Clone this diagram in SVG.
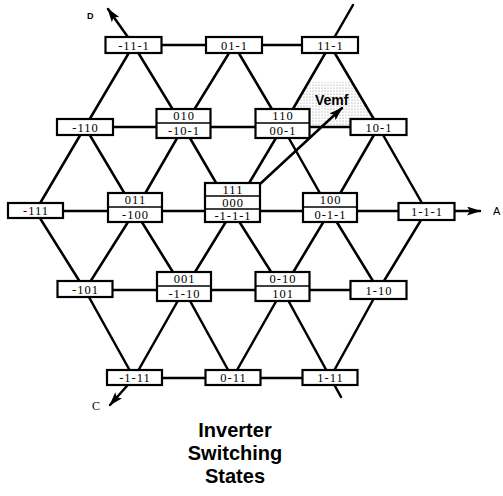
<svg xmlns="http://www.w3.org/2000/svg" width="503" height="496" viewBox="0 0 503 496">
<style>
.ln{stroke:#000;stroke-width:2.5;fill:none;stroke-linecap:round}
.bx{fill:#fff;stroke:#000;stroke-width:2.2}
.sp{stroke:#000;stroke-width:1.6}
.t{font-family:"Liberation Serif","Times New Roman",serif;font-size:12.5px;text-anchor:middle;letter-spacing:1px;fill:#000}
.title{font-family:"Liberation Sans",Arial,sans-serif;font-weight:bold;font-size:20px;text-anchor:middle;fill:#000}
</style>
<defs>
<marker id="ah" viewBox="0 0 14 9" refX="13" refY="4.5" markerWidth="14" markerHeight="9" markerUnits="userSpaceOnUse" orient="auto">
<path d="M0,0 L14,4.5 L0,9 L3,4.5 Z" fill="#000"/>
</marker>
<pattern id="dots" width="3" height="3" patternUnits="userSpaceOnUse">
<circle cx="1" cy="1" r="0.6" fill="#888"/>
</pattern>
</defs>
<rect width="503" height="496" fill="#fff"/>
<polygon points="309.5,82 350.5,82 378,127 282,127" fill="url(#dots)"/>
<g id="connectors">
<path class="ln" d="M133.5,45H330 M85,127H378.5 M35.5,211H455 M85,290H378.5 M134,378H330"/>
<path class="ln" d="M133.5,45L85,127 M133.5,45L183.5,127 M234,45L183.5,127 M234,45L282.5,127 M330,45L282.5,127 M330,45L378.5,127"/>
<path class="ln" d="M85,127L35.5,211 M85,127L135,211 M183.5,127L135,211 M183.5,127L232.5,211 M282.5,127L232.5,211 M282.5,127L330,211 M378.5,127L330,211 M378.5,127L426.5,211"/>
<path class="ln" d="M35.5,211L85,290 M135,211L85,290 M135,211L184,290 M232.5,211L184,290 M232.5,211L282.5,290 M330,211L282.5,290 M330,211L378.5,290 M426.5,211L378.5,290"/>
<path class="ln" d="M85,290L134,378 M184,290L134,378 M184,290L232.5,378 M282.5,290L232.5,378 M282.5,290L341,397 M378.5,290L330,378"/>
<path class="ln" d="M330,45L353,5"/>
<path class="ln" d="M133.5,45L108,9" marker-end="url(#ah)"/>
<path class="ln" d="M134,378L110,405" marker-end="url(#ah)"/>
<path class="ln" d="M455,211L480,211" marker-end="url(#ah)"/>
</g>
<g id="n-11-1"><rect class="bx" x="105.5" y="37" width="56" height="16"/><text class="t" x="134" y="49.5">-11-1</text></g>
<g id="n01-1"><rect class="bx" x="206" y="37" width="56" height="16"/><text class="t" x="234.5" y="49.5">01-1</text></g>
<g id="n11-1"><rect class="bx" x="302" y="37" width="56" height="16"/><text class="t" x="330.5" y="49.5">11-1</text></g>
<g id="n-110"><rect class="bx" x="57" y="119" width="56" height="16"/><text class="t" x="85.5" y="131.5">-110</text></g>
<g id="n010"><rect class="bx" x="156.5" y="109" width="54" height="29"/><line class="sp" x1="156.5" y1="123" x2="210.5" y2="123"/><text class="t" x="184" y="120">010</text><text class="t" x="184" y="134.5">-10-1</text></g>
<g id="n110"><rect class="bx" x="255.5" y="109" width="54" height="29"/><line class="sp" x1="255.5" y1="123" x2="309.5" y2="123"/><text class="t" x="283" y="120">110</text><text class="t" x="283" y="134.5">00-1</text></g>
<g id="n10-1"><rect class="bx" x="350.5" y="119" width="56" height="16"/><text class="t" x="379" y="131.5">10-1</text></g>
<g id="n-111"><rect class="bx" x="8" y="203" width="55" height="15"/><text class="t" x="36" y="215">-111</text></g>
<g id="n011"><rect class="bx" x="108" y="193" width="54" height="29"/><line class="sp" x1="108" y1="207" x2="162" y2="207"/><text class="t" x="135.5" y="204">011</text><text class="t" x="135.5" y="218.5">-100</text></g>
<g id="n111"><rect class="bx" x="205" y="183" width="55" height="39"/><line class="sp" x1="205" y1="196" x2="260" y2="196"/><line class="sp" x1="205" y1="209" x2="260" y2="209"/><text class="t" x="233" y="194">111</text><text class="t" x="233" y="207">000</text><text class="t" x="233" y="220">-1-1-1</text></g>
<g id="n100"><rect class="bx" x="303" y="193" width="54" height="29"/><line class="sp" x1="303" y1="207" x2="357" y2="207"/><text class="t" x="330.5" y="204">100</text><text class="t" x="330.5" y="218.5">0-1-1</text></g>
<g id="n1-1-1"><rect class="bx" x="398.5" y="203" width="56" height="17"/><text class="t" x="427" y="216">1-1-1</text></g>
<g id="n-101"><rect class="bx" x="57.5" y="281" width="55" height="16"/><text class="t" x="85.5" y="293.5">-101</text></g>
<g id="n001"><rect class="bx" x="157" y="272" width="54" height="29"/><line class="sp" x1="157" y1="286" x2="211" y2="286"/><text class="t" x="184.5" y="283">001</text><text class="t" x="184.5" y="297.5">-1-10</text></g>
<g id="n0-10"><rect class="bx" x="255.5" y="272" width="54" height="29"/><line class="sp" x1="255.5" y1="286" x2="309.5" y2="286"/><text class="t" x="283" y="283">0-10</text><text class="t" x="283" y="297.5">101</text></g>
<g id="n1-10"><rect class="bx" x="350.5" y="281" width="56" height="18"/><text class="t" x="379" y="294.5">1-10</text></g>
<g id="n-1-11"><rect class="bx" x="107" y="370" width="55" height="15"/><text class="t" x="135" y="382">-1-11</text></g>
<g id="n0-11"><rect class="bx" x="205.5" y="370" width="55" height="15"/><text class="t" x="233.5" y="382">0-11</text></g>
<g id="n1-11"><rect class="bx" x="302.5" y="370" width="55" height="15"/><text class="t" x="330.5" y="382">1-11</text></g>
<g id="vemf">
<path class="ln" d="M260,184L342,108" marker-end="url(#ah)"/>
<text x="315" y="105" font-family="Liberation Sans, Arial, sans-serif" font-weight="bold" font-size="14">Vemf</text>
</g>
<g id="labels">
<text x="87" y="19" font-family="Liberation Sans, Arial, sans-serif" font-weight="bold" font-size="9">D</text>
<text x="493" y="215" font-family="Liberation Sans, Arial, sans-serif" font-size="11">A</text>
<text x="92" y="410" font-family="Liberation Serif, Times New Roman, serif" font-size="12">C</text>
<text class="title" x="235" y="437">Inverter</text>
<text class="title" x="235" y="460">Switching</text>
<text class="title" x="235" y="483">States</text>
</g>
</svg>
